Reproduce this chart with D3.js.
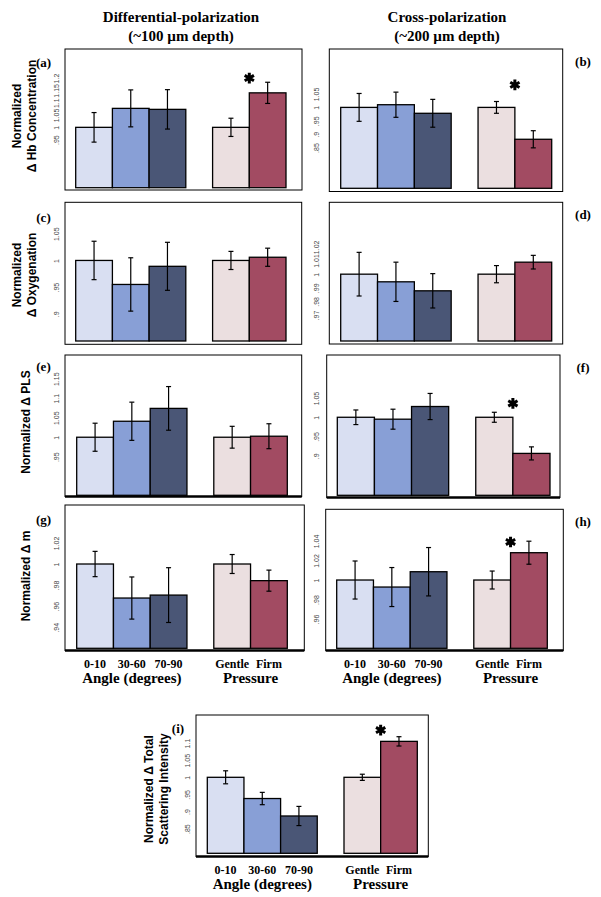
<!DOCTYPE html>
<html><head><meta charset="utf-8">
<script src="https://cdn.jsdelivr.net/npm/d3@7/dist/d3.min.js"></script>
<style>
body{margin:0;background:#fff}
.serif{font-family:"Liberation Serif","DejaVu Serif",serif;font-weight:bold}
.ylab{font-family:"Liberation Sans",Arial,sans-serif;font-weight:bold}
.tick text{font-family:"Liberation Sans",sans-serif}
</style></head>
<body>
<script>
// ---------- DATA ----------
const categories = ["0-10", "30-60", "70-90", "Gentle", "Firm"];
const columnTitles = ["Differential-polarization", "Cross-polarization"];
const columnSubtitles = ["(~100 µm depth)", "(~200 µm depth)"];
const groupTitles = ["Angle (degrees)", "Pressure"];

const valuesA = [1.000, 1.077, 1.073, 1.000, 1.140];
const errorsA = [0.060, 0.075, 0.080, 0.037, 0.043];
const ticksA  = [0.95, 1.00, 1.05, 1.10, 1.15, 1.20];

const valuesB = [1.000, 1.010, 0.978, 1.000, 0.881];
const errorsB = [0.052, 0.047, 0.052, 0.022, 0.032];
const ticksB  = [0.85, 0.90, 0.95, 1.00, 1.05];

const valuesC = [1.000, 0.955, 0.989, 1.000, 1.006];
const errorsC = [0.036, 0.050, 0.045, 0.017, 0.017];
const ticksC  = [0.90, 0.95, 1.00, 1.05];

const valuesD = [1.000, 0.9944, 0.9878, 1.000, 1.0088];
const errorsD = [0.016, 0.0144, 0.0126, 0.0063, 0.005];
const ticksD  = [0.97, 0.98, 0.99, 1.00, 1.01, 1.02];

const valuesE = [1.000, 1.041, 1.074, 1.000, 1.0026];
const errorsE = [0.036, 0.049, 0.056, 0.028, 0.032];
const ticksE  = [0.95, 1.00, 1.05, 1.10, 1.15];

const valuesF = [1.000, 0.995, 1.028, 1.000, 0.906];
const errorsF = [0.019, 0.026, 0.034, 0.013, 0.017];
const ticksF  = [0.90, 0.95, 1.00, 1.05];

const valuesG = [1.000, 0.9677, 0.9705, 1.000, 0.9842];
const errorsG = [0.012, 0.020, 0.026, 0.009, 0.010];
const ticksG  = [0.94, 0.96, 0.98, 1.00, 1.02];

const valuesH = [1.000, 0.9928, 1.0085, 1.000, 1.028];
const errorsH = [0.0195, 0.020, 0.0248, 0.0092, 0.0118];
const ticksH  = [0.96, 0.98, 1.00, 1.02, 1.04];

const valuesI = [1.000, 0.938, 0.887, 1.000, 1.105];
const errorsI = [0.019, 0.018, 0.028, 0.009, 0.0136];
const ticksI  = [0.85, 0.90, 0.95, 1.00, 1.05, 1.10];

// significance marker level (value) for panels with a significant Firm difference
const sigLevels = {a: 1.200, b: 1.084, f: 1.036, h: 1.039, i: 1.138};

const yLabels = {
  a: ["Normalized", "Δ Hb Concentration"],
  c: ["Normalized", "Δ Oxygenation"],
  e: ["Normalized Δ PLS"],
  g: ["Normalized Δ m"],
  i: ["Normalized Δ Total", "Scattering Intensity"]
};

// ---------- STYLE / LAYOUT ----------
const barColors = ["#d9dff2", "#889fd6", "#4a5676", "#ebdfe0", "#a24b62"];
const groupGap = 0.73;

const layout = [
  {id:"a", v:valuesA, e:errorsA, t:ticksA, box:[65,302,49,190],     bars:[75.7,286],  bottom:187.7, dom:[0.755,1.318], tickOff:6,  thick:false, lab:[43.5,67]},
  {id:"b", v:valuesB, e:errorsB, t:ticksB, box:[329.3,562.7,49,191.5], bars:[340.7,551.7], bottom:188.3, dom:[0.698,1.218], tickOff:10, thick:false, lab:[583,66]},
  {id:"c", v:valuesC, e:errorsC, t:ticksC, box:[65,301.7,202.3,344.3], bars:[75.7,286],  bottom:341,   dom:[0.849,1.109], tickOff:6,  thick:false, lab:[43.5,222]},
  {id:"d", v:valuesD, e:errorsD, t:ticksD, box:[329.3,562.7,202.3,344], bars:[340.7,551.7], bottom:341, dom:[0.951,1.0527], tickOff:10, thick:false, lab:[583,219]},
  {id:"e", v:valuesE, e:errorsE, t:ticksE, box:[65,301.7,355,496.5],  bars:[76.7,287.3], bottom:495.3, dom:[0.851,1.211], tickOff:6,  thick:true,  lab:[43.5,371]},
  {id:"f", v:valuesF, e:errorsF, t:ticksF, box:[326.7,560,355,497.5],  bars:[337.3,550],  bottom:495.3, dom:[0.797,1.162], tickOff:8,  thick:true,  lab:[583,372]},
  {id:"g", v:valuesG, e:errorsG, t:ticksG, box:[65,304.3,505,650.5],  bars:[76.7,287.3], bottom:648.3, dom:[0.920,1.056], tickOff:6,  thick:true,  lab:[43.5,524]},
  {id:"h", v:valuesH, e:errorsH, t:ticksH, box:[325.7,563.3,509.3,650.5], bars:[336.7,547.3], bottom:648.3, dom:[0.930,1.0725], tickOff:7, thick:true, lab:[583,526]},
  {id:"i", v:valuesI, e:errorsI, t:ticksI, box:[196,428.3,715,856.5], bars:[207.3,417.3], bottom:853.3, dom:[0.778,1.182], tickOff:6,  thick:true,  lab:[178,733]}
];

const yLabelPos = {
  a: {x:[20.5, 36], y:116},
  c: {x:[20.5, 36], y:275},
  e: {x:[29.5], y:422},
  g: {x:[29.5], y:576},
  i: {x:[152.5, 167.5], y:789}
};
const xLabelPos = {g:{y:[668,683]}, h:{y:[668,683]}, i:{y:[874,889]}};

const svg = d3.select("body").append("svg").attr("width", 601).attr("height", 897);

// column titles
const titleX = [181, 447];
columnTitles.forEach((t, i) => {
  svg.append("text").attr("class", "serif").attr("x", titleX[i]).attr("y", 22)
    .attr("text-anchor", "middle").attr("font-size", 15).text(t);
  svg.append("text").attr("class", "serif").attr("x", titleX[i]).attr("y", 41)
    .attr("text-anchor", "middle").attr("font-size", 15).text(columnSubtitles[i]);
});

function fmt(d) {
  if (Math.abs(d - 1) < 1e-9) return "1";
  let s = d3.format("")(+d.toFixed(3));
  return s.replace(/^0\./, ".");
}

layout.forEach(p => {
  const g = svg.append("g");
  const [x0, x1, y0, y1] = p.box;
  const y = d3.scaleLinear().domain(p.dom).range([p.bottom, y0]);
  const x = d3.scaleLinear().domain([0, 5 + groupGap]).range(p.bars);
  const pos = i => i + (i >= 3 ? groupGap : 0);
  const bw = x(1) - x(0);

  // frame
  g.append("rect").attr("x", x0).attr("y", y0).attr("width", x1 - x0).attr("height", y1 - y0)
    .attr("fill", "none").attr("stroke", "#000").attr("stroke-width", 1);
  if (p.thick) {
    g.append("line").attr("x1", x0).attr("x2", x1).attr("y1", y1).attr("y2", y1)
      .attr("stroke", "#000").attr("stroke-width", 2.5);
  }

  // y axis (rotated tick labels, no tick marks)
  const ax = g.append("g").attr("transform", `translate(${x0},0)`)
    .call(d3.axisLeft(y).tickValues(p.t).tickSize(0).tickFormat(fmt));
  ax.attr("font-family", null).attr("font-size", null);
  ax.select(".domain").remove();
  ax.selectAll("text")
    .attr("x", null).attr("dy", null)
    .attr("transform", `translate(${-p.tickOff},0) rotate(-90)`)
    .attr("text-anchor", "middle")
    .attr("font-size", 7).attr("fill", "#444");

  // bars
  g.selectAll("rect.bar").data(p.v).join("rect").attr("class", "bar")
    .attr("x", (d, i) => x(pos(i)))
    .attr("y", d => y(d))
    .attr("width", bw)
    .attr("height", d => y(p.dom[0]) - y(d))
    .attr("fill", (d, i) => barColors[i])
    .attr("stroke", "#000").attr("stroke-width", 1.3);

  // error bars
  const eb = g.selectAll("g.eb").data(p.v).join("g").attr("class", "eb");
  eb.append("line")
    .attr("x1", (d, i) => x(pos(i) + 0.5)).attr("x2", (d, i) => x(pos(i) + 0.5))
    .attr("y1", (d, i) => y(d + p.e[i])).attr("y2", (d, i) => y(d - p.e[i]))
    .attr("stroke", "#000").attr("stroke-width", 1.2);
  [1, -1].forEach(s => {
    eb.append("line")
      .attr("x1", (d, i) => x(pos(i) + 0.5) - 2.5).attr("x2", (d, i) => x(pos(i) + 0.5) + 2.5)
      .attr("y1", (d, i) => y(d + s * p.e[i])).attr("y2", (d, i) => y(d + s * p.e[i]))
      .attr("stroke", "#000").attr("stroke-width", 1.2);
  });

  // significance asterisk at boundary between Gentle and Firm
  if (sigLevels[p.id] !== undefined) {
    g.append("path")
      .attr("transform", `translate(${x(4 + groupGap)},${y(sigLevels[p.id])})`)
      .attr("d", d3.symbol(d3.symbolAsterisk, 80)())
      .attr("fill", "none").attr("stroke", "#000").attr("stroke-width", 3);
  }

  // panel letter
  g.append("text").attr("class", "serif").attr("x", p.lab[0]).attr("y", p.lab[1])
    .attr("text-anchor", "middle").attr("font-size", 13).text(`(${p.id})`);

  // y label
  if (yLabels[p.id]) {
    const lp = yLabelPos[p.id];
    yLabels[p.id].forEach((t, k) => {
      g.append("text").attr("class", "ylab")
        .attr("transform", `translate(${lp.x[k]},${lp.y}) rotate(-90)`)
        .attr("text-anchor", "middle").attr("font-size", 12).text(t);
    });
  }

  // x labels
  if (xLabelPos[p.id]) {
    const yy = xLabelPos[p.id].y;
    categories.forEach((c, i) => {
      g.append("text").attr("class", "serif").attr("x", x(pos(i) + 0.5)).attr("y", yy[0])
        .attr("text-anchor", "middle").attr("font-size", 12).text(c);
    });
    g.append("text").attr("class", "serif").attr("x", x(1.5)).attr("y", yy[1])
      .attr("text-anchor", "middle").attr("font-size", 15).text(groupTitles[0]);
    g.append("text").attr("class", "serif").attr("x", x(4 + groupGap)).attr("y", yy[1])
      .attr("text-anchor", "middle").attr("font-size", 15).text(groupTitles[1]);
  }
});
</script>
</body></html>
